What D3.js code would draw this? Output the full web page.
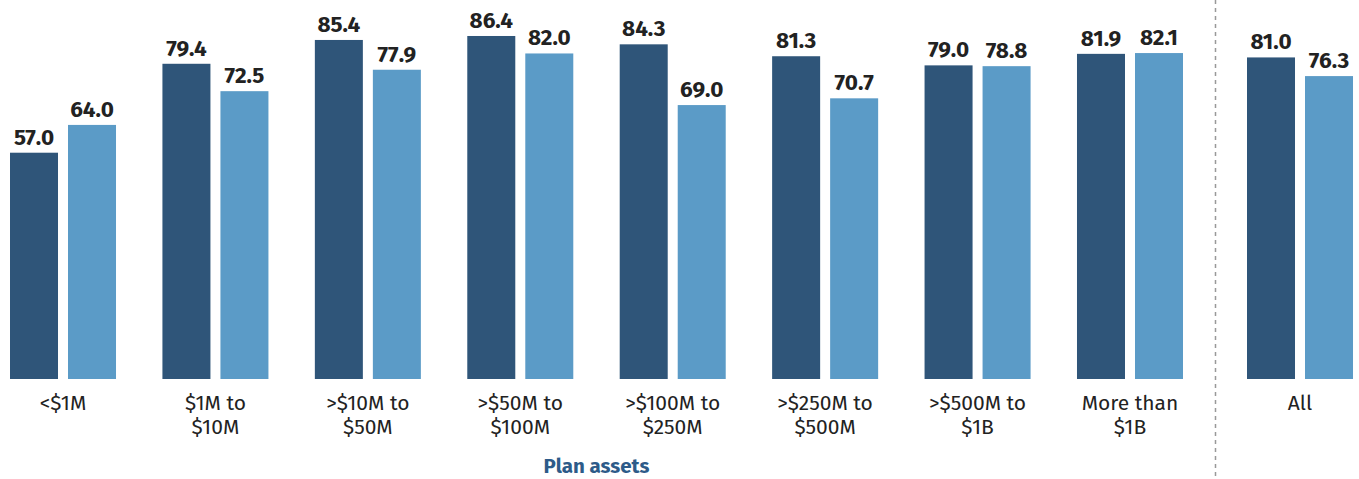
<!DOCTYPE html>
<meta charset="utf-8">
<style>
body { margin: 0; background: #fff; }
text { font-family: "Fira Sans", Lato, "Noto Sans", sans-serif; }
.value { font-weight: bold; font-size: 22.5px; fill: #222; text-anchor: middle; }
.cat { font-size: 21px; fill: #222; text-anchor: middle; }
.title { font-weight: bold; font-size: 20.5px; fill: #2d5b89; text-anchor: middle; }
</style>
<svg width="1359" height="479"></svg>
<script src="https://cdn.jsdelivr.net/npm/d3@7"></script>
<script>

var categories = ["<$1M", "$1M to $10M", ">$10M to $50M", ">$50M to $100M", ">$100M to $250M",
                  ">$250M to $500M", ">$500M to $1B", "More than $1B", "All"];
var labelLines = [["<$1M"], ["$1M to", "$10M"], [">$10M to", "$50M"], [">$50M to", "$100M"],
                  [">$100M to", "$250M"], [">$250M to", "$500M"], [">$500M to", "$1B"],
                  ["More than", "$1B"], ["All"]];
var seriesA = [57.0, 79.4, 85.4, 86.4, 84.3, 81.3, 79.0, 81.9, 81.0];
var seriesB = [64.0, 72.5, 77.9, 82.0, 69.0, 70.7, 78.8, 82.1, 76.3];
var seriesNames = ["A", "B"];
var colors = ["#2f5579", "#5b9bc7"];

var svg = d3.select("svg"),
    width = +svg.attr("width"),
    height = +svg.attr("height");

var baseline = 379;

var y = d3.scaleLinear()
    .domain([0, 100])
    .range([baseline, baseline - 397]);

// the first eight groups share one band scale, "All" sits past the divider
var x = d3.scaleBand()
    .domain(categories.slice(0, 8))
    .range([10, 1183])
    .paddingInner(0.3045)
    .paddingOuter(0);

var allX = 1247;
function groupX(c) { return c === "All" ? allX : x(c); }

var inner = d3.scaleBand()
    .domain(seriesNames)
    .range([0, x.bandwidth()])
    .paddingInner(10 / 58);

var data = categories.map(function(c, i) {
  return { cat: c, lines: labelLines[i], values: [seriesA[i], seriesB[i]] };
});

var groups = svg.selectAll("g.group")
  .data(data)
  .enter().append("g")
    .attr("class", "group")
    .attr("transform", function(d) { return "translate(" + groupX(d.cat) + ",0)"; });

var bars = groups.selectAll("g.bar")
  .data(function(d) { return d.values.map(function(v, j) { return { v: v, s: seriesNames[j], j: j }; }); })
  .enter().append("g")
    .attr("class", "bar");

bars.append("rect")
    .attr("x", function(d) { return inner(d.s); })
    .attr("y", function(d) { return y(d.v); })
    .attr("width", inner.bandwidth())
    .attr("height", function(d) { return baseline - y(d.v); })
    .style("fill", function(d) { return colors[d.j]; });

bars.append("text")
    .attr("class", "value")
    .attr("x", function(d) { return inner(d.s) + inner.bandwidth() / 2; })
    .attr("y", function(d) { return y(d.v) - 8; })
    .text(function(d) { return d.v.toFixed(1); });

var labels = groups.append("text")
    .attr("class", "cat")
    .attr("x", x.bandwidth() / 2)
    .attr("y", baseline + 31);

labels.selectAll("tspan")
  .data(function(d) { return d.lines; })
  .enter().append("tspan")
    .attr("x", x.bandwidth() / 2)
    .attr("dy", function(d, i) { return i ? 24 : 0; })
    .text(function(d) { return d; });

// divider before "All"
svg.append("line")
    .attr("x1", 1215.5).attr("x2", 1215.5)
    .attr("y1", 0).attr("y2", height)
    .style("stroke", "#999")
    .style("stroke-width", 1.5)
    .style("stroke-dasharray", "4,4");

svg.append("text")
    .attr("class", "title")
    .attr("x", (x.range()[0] + x.range()[1]) / 2)
    .attr("y", 473)
    .text("Plan assets");

</script>
